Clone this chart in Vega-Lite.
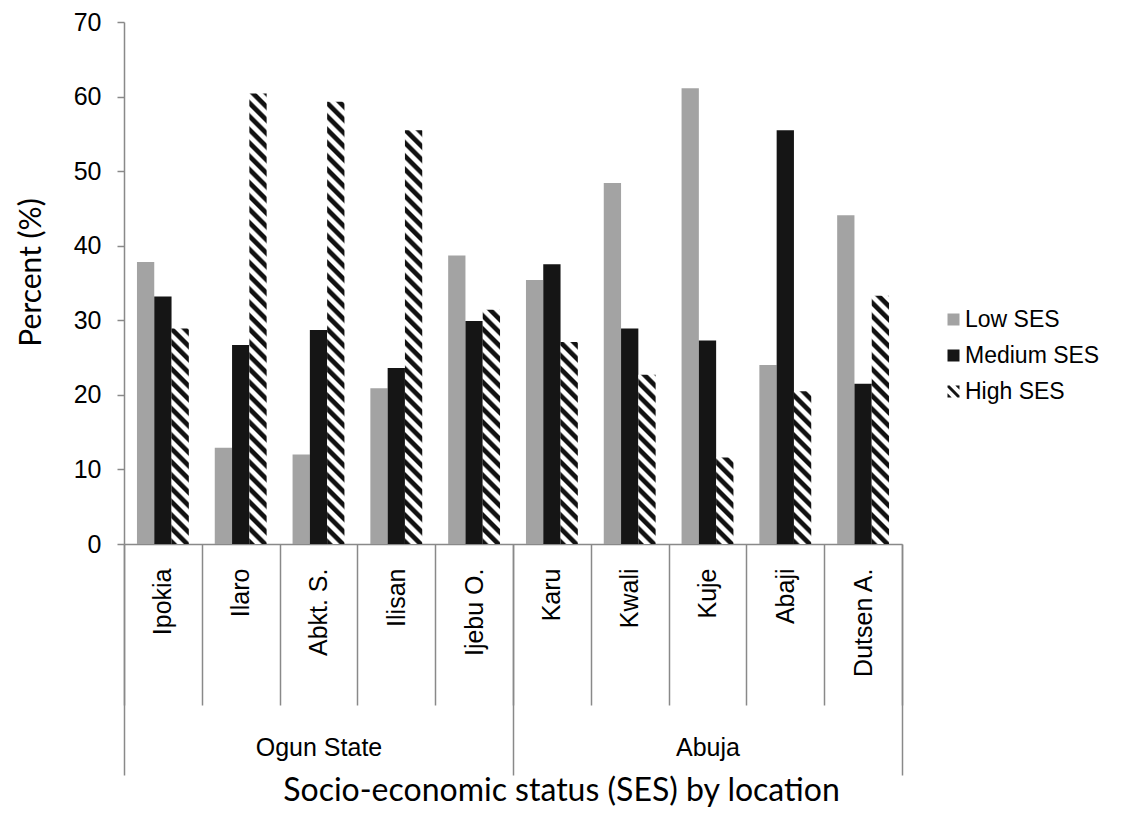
{
  "$schema": "https://vega.github.io/schema/vega-lite/v6.json",
  "autosize": {"type": "none"},
  "padding": {"left": 124, "top": 22, "right": 229, "bottom": 274},
  "width": 778,
  "height": 522,
  "background": "white",
  "params": [
    {
      "name": "stripeStops",
      "value": [
        {"offset": 0, "color": "#111"}, {"offset": 0.0097, "color": "#111"}, {"offset": 0.0139, "color": "#fff"}, {"offset": 0.0236, "color": "#fff"},
        {"offset": 0.0278, "color": "#111"}, {"offset": 0.0375, "color": "#111"}, {"offset": 0.0417, "color": "#fff"}, {"offset": 0.0514, "color": "#fff"},
        {"offset": 0.0556, "color": "#111"}, {"offset": 0.0653, "color": "#111"}, {"offset": 0.0694, "color": "#fff"}, {"offset": 0.0792, "color": "#fff"},
        {"offset": 0.0833, "color": "#111"}, {"offset": 0.0931, "color": "#111"}, {"offset": 0.0972, "color": "#fff"}, {"offset": 0.1069, "color": "#fff"},
        {"offset": 0.1111, "color": "#111"}, {"offset": 0.1208, "color": "#111"}, {"offset": 0.1250, "color": "#fff"}, {"offset": 0.1347, "color": "#fff"},
        {"offset": 0.1389, "color": "#111"}, {"offset": 0.1486, "color": "#111"}, {"offset": 0.1528, "color": "#fff"}, {"offset": 0.1625, "color": "#fff"},
        {"offset": 0.1667, "color": "#111"}, {"offset": 0.1764, "color": "#111"}, {"offset": 0.1806, "color": "#fff"}, {"offset": 0.1903, "color": "#fff"},
        {"offset": 0.1944, "color": "#111"}, {"offset": 0.2042, "color": "#111"}, {"offset": 0.2083, "color": "#fff"}, {"offset": 0.2181, "color": "#fff"},
        {"offset": 0.2222, "color": "#111"}, {"offset": 0.2319, "color": "#111"}, {"offset": 0.2361, "color": "#fff"}, {"offset": 0.2458, "color": "#fff"},
        {"offset": 0.2500, "color": "#111"}, {"offset": 0.2597, "color": "#111"}, {"offset": 0.2639, "color": "#fff"}, {"offset": 0.2736, "color": "#fff"},
        {"offset": 0.2778, "color": "#111"}, {"offset": 0.2875, "color": "#111"}, {"offset": 0.2917, "color": "#fff"}, {"offset": 0.3014, "color": "#fff"},
        {"offset": 0.3056, "color": "#111"}, {"offset": 0.3153, "color": "#111"}, {"offset": 0.3194, "color": "#fff"}, {"offset": 0.3292, "color": "#fff"},
        {"offset": 0.3333, "color": "#111"}, {"offset": 0.3431, "color": "#111"}, {"offset": 0.3472, "color": "#fff"}, {"offset": 0.3569, "color": "#fff"},
        {"offset": 0.3611, "color": "#111"}, {"offset": 0.3708, "color": "#111"}, {"offset": 0.3750, "color": "#fff"}, {"offset": 0.3847, "color": "#fff"},
        {"offset": 0.3889, "color": "#111"}, {"offset": 0.3986, "color": "#111"}, {"offset": 0.4028, "color": "#fff"}, {"offset": 0.4125, "color": "#fff"},
        {"offset": 0.4167, "color": "#111"}, {"offset": 0.4264, "color": "#111"}, {"offset": 0.4306, "color": "#fff"}, {"offset": 0.4403, "color": "#fff"},
        {"offset": 0.4444, "color": "#111"}, {"offset": 0.4542, "color": "#111"}, {"offset": 0.4583, "color": "#fff"}, {"offset": 0.4681, "color": "#fff"},
        {"offset": 0.4722, "color": "#111"}, {"offset": 0.4819, "color": "#111"}, {"offset": 0.4861, "color": "#fff"}, {"offset": 0.4958, "color": "#fff"},
        {"offset": 0.5000, "color": "#111"}, {"offset": 0.5097, "color": "#111"}, {"offset": 0.5139, "color": "#fff"}, {"offset": 0.5236, "color": "#fff"},
        {"offset": 0.5278, "color": "#111"}, {"offset": 0.5375, "color": "#111"}, {"offset": 0.5417, "color": "#fff"}, {"offset": 0.5514, "color": "#fff"},
        {"offset": 0.5556, "color": "#111"}, {"offset": 0.5653, "color": "#111"}, {"offset": 0.5694, "color": "#fff"}, {"offset": 0.5792, "color": "#fff"},
        {"offset": 0.5833, "color": "#111"}, {"offset": 0.5931, "color": "#111"}, {"offset": 0.5972, "color": "#fff"}, {"offset": 0.6069, "color": "#fff"},
        {"offset": 0.6111, "color": "#111"}, {"offset": 0.6208, "color": "#111"}, {"offset": 0.6250, "color": "#fff"}, {"offset": 0.6347, "color": "#fff"},
        {"offset": 0.6389, "color": "#111"}, {"offset": 0.6486, "color": "#111"}, {"offset": 0.6528, "color": "#fff"}, {"offset": 0.6625, "color": "#fff"},
        {"offset": 0.6667, "color": "#111"}, {"offset": 0.6764, "color": "#111"}, {"offset": 0.6806, "color": "#fff"}, {"offset": 0.6903, "color": "#fff"},
        {"offset": 0.6944, "color": "#111"}, {"offset": 0.7042, "color": "#111"}, {"offset": 0.7083, "color": "#fff"}, {"offset": 0.7181, "color": "#fff"},
        {"offset": 0.7222, "color": "#111"}, {"offset": 0.7319, "color": "#111"}, {"offset": 0.7361, "color": "#fff"}, {"offset": 0.7458, "color": "#fff"},
        {"offset": 0.7500, "color": "#111"}, {"offset": 0.7597, "color": "#111"}, {"offset": 0.7639, "color": "#fff"}, {"offset": 0.7736, "color": "#fff"},
        {"offset": 0.7778, "color": "#111"}, {"offset": 0.7875, "color": "#111"}, {"offset": 0.7917, "color": "#fff"}, {"offset": 0.8014, "color": "#fff"},
        {"offset": 0.8056, "color": "#111"}, {"offset": 0.8153, "color": "#111"}, {"offset": 0.8194, "color": "#fff"}, {"offset": 0.8292, "color": "#fff"},
        {"offset": 0.8333, "color": "#111"}, {"offset": 0.8431, "color": "#111"}, {"offset": 0.8472, "color": "#fff"}, {"offset": 0.8569, "color": "#fff"},
        {"offset": 0.8611, "color": "#111"}, {"offset": 0.8708, "color": "#111"}, {"offset": 0.8750, "color": "#fff"}, {"offset": 0.8847, "color": "#fff"},
        {"offset": 0.8889, "color": "#111"}, {"offset": 0.8986, "color": "#111"}, {"offset": 0.9028, "color": "#fff"}, {"offset": 0.9125, "color": "#fff"},
        {"offset": 0.9167, "color": "#111"}, {"offset": 0.9264, "color": "#111"}, {"offset": 0.9306, "color": "#fff"}, {"offset": 0.9403, "color": "#fff"},
        {"offset": 0.9444, "color": "#111"}, {"offset": 0.9542, "color": "#111"}, {"offset": 0.9583, "color": "#fff"}, {"offset": 0.9681, "color": "#fff"},
        {"offset": 0.9722, "color": "#111"}, {"offset": 0.9819, "color": "#111"}, {"offset": 0.9861, "color": "#fff"}, {"offset": 0.9958, "color": "#fff"},
        {"offset": 1, "color": "#111"}
      ]
    }
  ],
  "datasets": {
    "ses": [
      {"region": "Ogun State", "site": "Ipokia", "ses": "Low SES", "percent": 37.8},
      {"region": "Ogun State", "site": "Ipokia", "ses": "Medium SES", "percent": 33.2},
      {"region": "Ogun State", "site": "Ipokia", "ses": "High SES", "percent": 28.9},
      {"region": "Ogun State", "site": "Ilaro", "ses": "Low SES", "percent": 12.9},
      {"region": "Ogun State", "site": "Ilaro", "ses": "Medium SES", "percent": 26.7},
      {"region": "Ogun State", "site": "Ilaro", "ses": "High SES", "percent": 60.4},
      {"region": "Ogun State", "site": "Abkt. S.", "ses": "Low SES", "percent": 12.0},
      {"region": "Ogun State", "site": "Abkt. S.", "ses": "Medium SES", "percent": 28.7},
      {"region": "Ogun State", "site": "Abkt. S.", "ses": "High SES", "percent": 59.3},
      {"region": "Ogun State", "site": "Ilisan", "ses": "Low SES", "percent": 20.9},
      {"region": "Ogun State", "site": "Ilisan", "ses": "Medium SES", "percent": 23.6},
      {"region": "Ogun State", "site": "Ilisan", "ses": "High SES", "percent": 55.5},
      {"region": "Ogun State", "site": "Ijebu O.", "ses": "Low SES", "percent": 38.7},
      {"region": "Ogun State", "site": "Ijebu O.", "ses": "Medium SES", "percent": 29.9},
      {"region": "Ogun State", "site": "Ijebu O.", "ses": "High SES", "percent": 31.4},
      {"region": "Abuja", "site": "Karu", "ses": "Low SES", "percent": 35.4},
      {"region": "Abuja", "site": "Karu", "ses": "Medium SES", "percent": 37.5},
      {"region": "Abuja", "site": "Karu", "ses": "High SES", "percent": 27.1},
      {"region": "Abuja", "site": "Kwali", "ses": "Low SES", "percent": 48.4},
      {"region": "Abuja", "site": "Kwali", "ses": "Medium SES", "percent": 28.9},
      {"region": "Abuja", "site": "Kwali", "ses": "High SES", "percent": 22.7},
      {"region": "Abuja", "site": "Kuje", "ses": "Low SES", "percent": 61.1},
      {"region": "Abuja", "site": "Kuje", "ses": "Medium SES", "percent": 27.3},
      {"region": "Abuja", "site": "Kuje", "ses": "High SES", "percent": 11.6},
      {"region": "Abuja", "site": "Abaji", "ses": "Low SES", "percent": 24.0},
      {"region": "Abuja", "site": "Abaji", "ses": "Medium SES", "percent": 55.5},
      {"region": "Abuja", "site": "Abaji", "ses": "High SES", "percent": 20.5},
      {"region": "Abuja", "site": "Dutsen A.", "ses": "Low SES", "percent": 44.1},
      {"region": "Abuja", "site": "Dutsen A.", "ses": "Medium SES", "percent": 21.5},
      {"region": "Abuja", "site": "Dutsen A.", "ses": "High SES", "percent": 33.3}
    ]
  },
  "data": {"name": "ses"},
  "config": {
    "view": {"stroke": null},
    "axis": {
      "grid": false,
      "domainColor": "#898989",
      "domainWidth": 1.5,
      "tickColor": "#898989",
      "tickWidth": 1.5,
      "labelColor": "#000000",
      "labelFont": "Liberation Sans",
      "labelFontSize": 25,
      "titleColor": "#000000",
      "titleFont": "Lato",
      "titleFontSize": 31,
      "titleFontWeight": "normal"
    },
    "legend": {
      "title": null,
      "orient": "none",
      "legendX": 818,
      "legendY": 286,
      "symbolSize": 144,
      "symbolOpacity": 1,
      "symbolStrokeWidth": 0,
      "labelFont": "Liberation Sans",
      "labelFontSize": 23,
      "labelColor": "#000000",
      "labelOffset": 0,
      "rowPadding": 12
    }
  },
  "resolve": {"scale": {"x": "independent"}, "axis": {"x": "independent"}},
  "layer": [
    {
      "mark": {"type": "rule", "opacity": 0},
      "encoding": {
        "x": {
          "field": "region",
          "type": "nominal",
          "sort": ["Ogun State", "Abuja"],
          "scale": {"type": "band", "paddingInner": 0, "paddingOuter": 0},
          "axis": {
            "orient": "bottom",
            "title": "Socio-economic status (SES) by location",
            "titleFontSize": 32,
            "titleX": 437,
            "titleY": 256,
            "titleBaseline": "alphabetic",
            "domain": false,
            "tickBand": "extent",
            "tickSize": 231,
            "labelAngle": 0,
            "labelFontSize": 25,
            "labelPadding": -40
          }
        }
      }
    },
    {
      "encoding": {
        "x": {
          "field": "site",
          "type": "nominal",
          "sort": ["Ipokia", "Ilaro", "Abkt. S.", "Ilisan", "Ijebu O.", "Karu", "Kwali", "Kuje", "Abaji", "Dutsen A."],
          "scale": {"type": "band", "paddingInner": 0, "paddingOuter": 0},
          "axis": {
            "orient": "bottom",
            "title": null,
            "labelAngle": -90,
            "tickBand": "extent",
            "tickSize": 161,
            "labelPadding": -137
          }
        },
        "xOffset": {
          "field": "ses",
          "type": "nominal",
          "sort": ["Low SES", "Medium SES", "High SES"],
          "scale": {"domain": ["Low SES", "Medium SES", "High SES"], "paddingInner": 0, "paddingOuter": 0.75}
        },
        "y": {
          "field": "percent",
          "type": "quantitative",
          "scale": {"domain": [0, 70], "nice": false},
          "axis": {
            "title": "Percent (%)",
            "titleFontSize": 30,
            "titleX": -84,
            "titleY": 250,
            "titleBaseline": "alphabetic",
            "values": [0, 10, 20, 30, 40, 50, 60, 70],
            "tickSize": 7,
            "labelPadding": 16
          }
        }
      },
      "layer": [
        {
          "mark": {
            "type": "bar",
            "fill": {
              "expr": "datum.ses === 'High SES' ? {gradient: 'linear', x1: 0, y1: 1, x2: 478.6 * 17.3 / (299.3 + pow(datum.percent * 7.4571, 2)), y2: 1 - 478.6 * datum.percent * 7.4571 / (299.3 + pow(datum.percent * 7.4571, 2)), stops: stripeStops} : scale('color', datum.ses)"
            }
          }
        },
        {
          "mark": {"type": "point", "filled": true, "opacity": 0, "size": 144},
          "encoding": {
            "color": {
              "field": "ses",
              "type": "nominal",
              "sort": ["Low SES", "Medium SES", "High SES"],
              "scale": {"domain": ["Low SES", "Medium SES", "High SES"], "range": ["#a3a3a3", "#151515", "#151515"]},
              "legend": {"title": null}
            },
            "shape": {
              "field": "ses",
              "type": "nominal",
              "sort": ["Low SES", "Medium SES", "High SES"],
              "scale": {
                "domain": ["Low SES", "Medium SES", "High SES"],
                "range": [
                  "square",
                  "square",
                  "M -1 -0.65 L -1 -1 L -0.65 -1 L 1 0.65 L 1 1 L 0.65 1 Z M -1 0.3 L -1 1 L -0.3 1 Z M 0.3 -1 L 1 -1 L 1 -0.3 Z"
                ]
              },
              "legend": {"title": null}
            }
          }
        }
      ]
    }
  ]
}
